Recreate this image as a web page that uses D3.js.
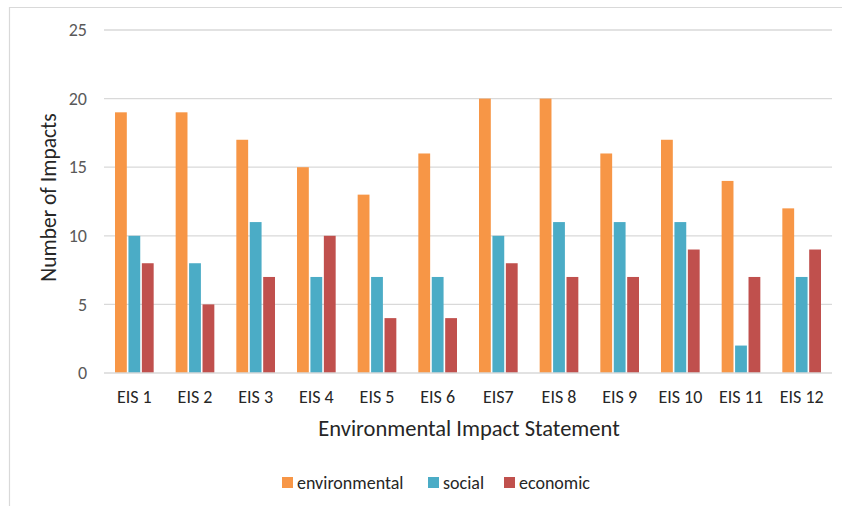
<!DOCTYPE html>
<html>
<head>
<meta charset="utf-8">
<script src="https://cdn.jsdelivr.net/npm/d3@7"></script>
<style>
  html, body { margin: 0; padding: 0; background: #fff; }
  svg { display: block; font-family: Carlito, Calibri, Lato, "Open Sans", sans-serif; }
</style>
</head>
<body>
<svg id="chart" width="842" height="506"></svg>
<script>
// Impacts identified per Environmental Impact Statement
const categories = ["EIS 1", "EIS 2", "EIS 3", "EIS 4", "EIS 5", "EIS 6", "EIS7", "EIS 8", "EIS 9", "EIS 10", "EIS 11", "EIS 12"];
const seriesNames = ["environmental", "social", "economic"];
const environmental = [19, 19, 17, 15, 13, 16, 20, 20, 16, 17, 14, 12];
const social        = [10, 8, 11, 7, 7, 7, 10, 11, 11, 11, 2, 7];
const economic      = [8, 5, 7, 10, 4, 4, 8, 7, 7, 9, 7, 9];
const yTicks = [0, 5, 10, 15, 20, 25];
const colors = ["#F79646", "#4BACC6", "#C0504D"];

const seriesValues = [environmental, social, economic];
const rows = categories.map((c, i) => ({
  cat: c,
  vals: seriesNames.map((s, k) => ({ key: s, value: seriesValues[k][i], color: colors[k] }))
}));

const svg = d3.select("#chart");
const plot = { left: 104, right: 832, top: 30, bottom: 373 };
const labelFont = 18;
const titleFont = 22.5;

// chart frame (top and left edges)
svg.append("path")
  .attr("d", "M9.5,506 V7.5 H842")
  .attr("fill", "none")
  .attr("stroke", "#d9d9d9")
  .attr("stroke-width", 1.2);

const x = d3.scaleBand().domain(categories).range([plot.left, plot.right]).paddingInner(0).paddingOuter(0);
const y = d3.scaleLinear().domain([0, 25]).range([plot.bottom, plot.top]);

// gridlines
svg.append("g").selectAll("line").data(yTicks.filter(t => t > 0)).join("line")
  .attr("x1", plot.left).attr("x2", plot.right)
  .attr("y1", d => y(d)).attr("y2", d => y(d))
  .attr("stroke", "#d9d9d9").attr("stroke-width", 1.3);

// y axis labels
const yAxis = d3.axisLeft(y).tickValues(yTicks).tickSize(0).tickPadding(0);
const gy = svg.append("g").attr("transform", `translate(${plot.left - 17},0)`).call(yAxis);
gy.select(".domain").remove();
gy.selectAll("text").attr("fill", "#595959").attr("font-size", labelFont).attr("font-family", "Carlito, Calibri, Lato, sans-serif");

// grouped bars
const inner = d3.scaleBand().domain(seriesNames).range([11, x.bandwidth() - 11]).paddingInner(0.12);
svg.append("g").selectAll("g").data(rows).join("g")
  .attr("transform", d => `translate(${x(d.cat)},0)`)
  .selectAll("rect").data(d => d.vals).join("rect")
  .attr("x", d => inner(d.key))
  .attr("width", inner.bandwidth())
  .attr("y", d => y(d.value))
  .attr("height", d => y(0) - y(d.value))
  .attr("fill", d => d.color);

// baseline
svg.append("line")
  .attr("x1", plot.left).attr("x2", plot.right)
  .attr("y1", y(0)).attr("y2", y(0))
  .attr("stroke", "#d9d9d9").attr("stroke-width", 1.3);

// x axis labels
const xAxis = d3.axisBottom(x).tickSize(0).tickPadding(0);
const gx = svg.append("g").attr("transform", `translate(0,${plot.bottom + 30})`).call(xAxis);
gx.select(".domain").remove();
gx.selectAll("text").attr("fill", "#262626").attr("font-size", labelFont).attr("dy", 0).attr("font-family", "Carlito, Calibri, Lato, sans-serif");

// axis titles
svg.append("text")
  .attr("x", (plot.left + plot.right) / 2 + 1).attr("y", 436)
  .attr("text-anchor", "middle").attr("fill", "#262626").attr("font-size", titleFont)
  .text("Environmental Impact Statement");

svg.append("text")
  .attr("transform", `translate(56,${(plot.top + plot.bottom) / 2 - 4}) rotate(-90)`)
  .attr("text-anchor", "middle").attr("fill", "#262626").attr("font-size", 21.5)
  .text("Number of Impacts");

// legend
const legendX = [282, 428, 504];
const leg = svg.append("g").selectAll("g").data(seriesNames).join("g")
  .attr("transform", (d, i) => `translate(${legendX[i]},477)`);
leg.append("rect").attr("width", 11).attr("height", 11).attr("fill", (d, i) => colors[i]);
leg.append("text").attr("x", 15).attr("y", 12).attr("fill", "#262626").attr("font-size", labelFont).text(d => d);
</script>
</body>
</html>
